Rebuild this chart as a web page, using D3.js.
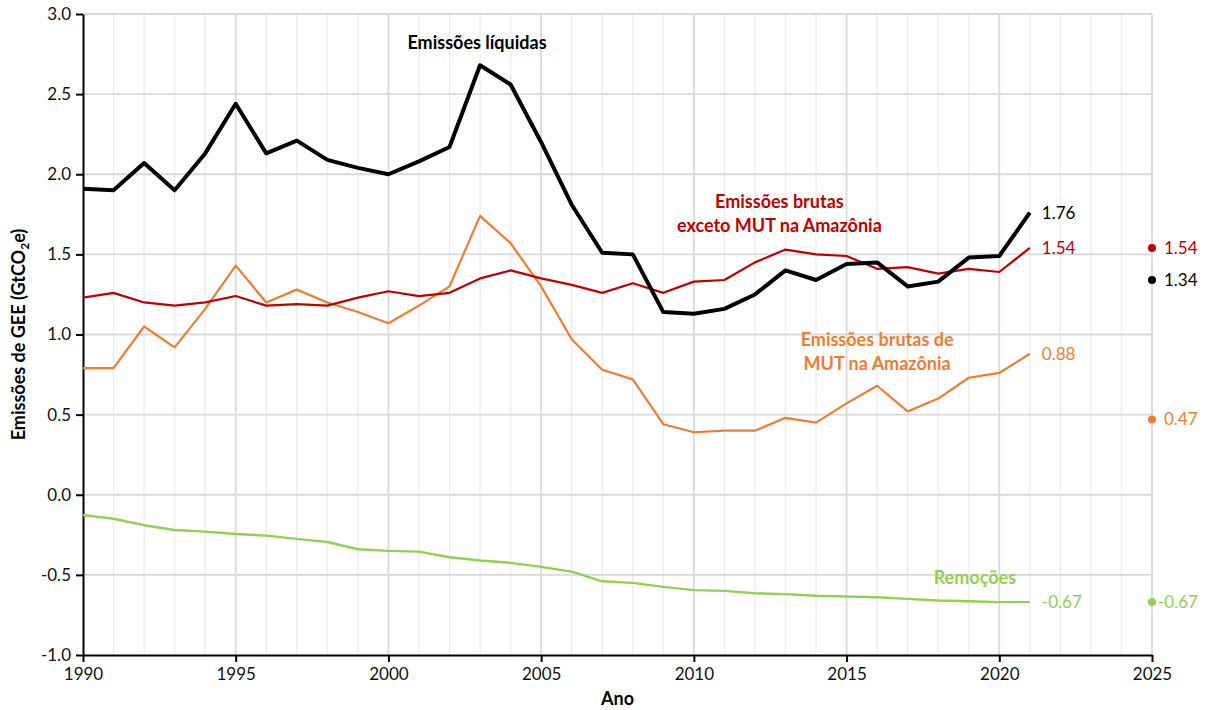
<!DOCTYPE html>
<html>
<head>
<meta charset="utf-8">
<script src="https://cdn.jsdelivr.net/npm/d3@7"></script>
<style>
  body { margin: 0; background: #fff; }
  svg text { font-family: Lato, "Open Sans", sans-serif; }
</style>
</head>
<body>
<div id="grafiek"></div>
<script>
// jaren en series
const anos = d3.range(1990, 2022);
const liquidas = [1.91, 1.90, 2.07, 1.90, 2.13, 2.44, 2.13, 2.21, 2.09, 2.04, 2.00, 2.08, 2.17, 2.68, 2.56, 2.20,
  1.81, 1.51, 1.50, 1.14, 1.13, 1.16, 1.25, 1.40, 1.34, 1.44, 1.45, 1.30, 1.33, 1.48, 1.49, 1.76];
const brutasExceto = [1.23, 1.26, 1.20, 1.18, 1.20, 1.24, 1.18, 1.19, 1.18, 1.23, 1.27, 1.24, 1.26, 1.35, 1.40, 1.35,
  1.31, 1.26, 1.32, 1.26, 1.33, 1.34, 1.45, 1.53, 1.50, 1.49, 1.41, 1.42, 1.38, 1.41, 1.39, 1.54];
const brutasMUT = [0.79, 0.79, 1.05, 0.92, 1.16, 1.43, 1.20, 1.28, 1.20, 1.14, 1.07, 1.18, 1.30, 1.74, 1.57, 1.30,
  0.97, 0.78, 0.72, 0.44, 0.39, 0.40, 0.40, 0.48, 0.45, 0.57, 0.68, 0.52, 0.60, 0.73, 0.76, 0.88];
const remocoes = [-0.126, -0.15, -0.19, -0.22, -0.23, -0.245, -0.255, -0.275, -0.295, -0.34, -0.35, -0.355, -0.39, -0.41,
  -0.425, -0.45, -0.48, -0.54, -0.55, -0.575, -0.595, -0.60, -0.615, -0.62, -0.63, -0.635, -0.64, -0.65, -0.66, -0.665, -0.67, -0.67];

// punten in 2025
const metaNomes = ["exceto", "liquidas", "mut", "remocoes"];
const metaValores = [1.54, 1.34, 0.47, -0.67];
const metaTextos = ["1.54", "1.34", "0.47", "-0.67"];

const xTicks = [1990, 1995, 2000, 2005, 2010, 2015, 2020, 2025];
const yTicks = [-1.0, -0.5, 0.0, 0.5, 1.0, 1.5, 2.0, 2.5, 3.0];

const kleuren = { liquidas: "#000000", exceto: "#C00000", mut: "#ED7D31", remocoes: "#92D050" };

const series = [
  { naam: "mut", waarden: brutasMUT, dikte: 2.2, eind: "0.88" },
  { naam: "exceto", waarden: brutasExceto, dikte: 2.2, eind: "1.54" },
  { naam: "remocoes", waarden: remocoes, dikte: 2.4, eind: "-0.67" },
  { naam: "liquidas", waarden: liquidas, dikte: 4, eind: "1.76" }
];

const width = 1208, height = 710;
const margin = { top: 14, right: 56, bottom: 55, left: 83 };

const svg = d3.select("#grafiek").append("svg")
  .attr("width", width)
  .attr("height", height);

const x = d3.scaleLinear().domain([1990, 2025]).range([margin.left, width - margin.right]);
const y = d3.scaleLinear().domain([-1, 3]).range([height - margin.bottom, margin.top]);

// rasterlijnen
const grid = svg.append("g");
grid.selectAll(".minor").data(d3.range(1991, 2025).filter(d => d % 5 !== 0)).join("line")
  .attr("x1", d => x(d)).attr("x2", d => x(d))
  .attr("y1", y(3)).attr("y2", y(-1))
  .attr("stroke", "#ececec").attr("stroke-width", 1.3);
grid.selectAll(".major").data(xTicks.slice(1)).join("line")
  .attr("x1", d => x(d)).attr("x2", d => x(d))
  .attr("y1", y(3)).attr("y2", y(-1))
  .attr("stroke", "#d9d9d9").attr("stroke-width", 1.8);
grid.selectAll(".hor").data(yTicks.slice(1)).join("line")
  .attr("x1", x(1990)).attr("x2", x(2025))
  .attr("y1", d => y(d)).attr("y2", d => y(d))
  .attr("stroke", "#d9d9d9").attr("stroke-width", 1.8);

// assen (koppelteken i.p.v. minteken)
const fmtY = d => d3.format(".1f")(d).replace("−", "-");
const yAxis = d3.axisLeft(y).tickValues(yTicks).tickFormat(fmtY).tickSize(7).tickSizeOuter(0);
const xAxis = d3.axisBottom(x).tickValues(xTicks).tickFormat(d3.format("d")).tickSize(7).tickSizeOuter(0);

const gy = svg.append("g").attr("transform", `translate(${margin.left},0)`).call(yAxis);
const gx = svg.append("g").attr("transform", `translate(0,${y(-1)})`).call(xAxis);
[gy, gx].forEach(g => {
  g.select(".domain").attr("stroke", "#000").attr("stroke-width", 2);
  g.selectAll(".tick line").attr("stroke", "#000").attr("stroke-width", 2);
  g.selectAll(".tick text").attr("font-size", 17).attr("fill", "#111");
});
gy.selectAll(".tick text").attr("x", -12);
gx.selectAll(".tick text").attr("y", 13);

// lijnen
const line = d3.line().x((d, i) => x(anos[i])).y(d => y(d));
svg.append("g").selectAll("path").data(series).join("path")
  .attr("d", d => line(d.waarden))
  .attr("fill", "none")
  .attr("stroke", d => kleuren[d.naam])
  .attr("stroke-width", d => d.dikte)
  .attr("stroke-linejoin", "round");

// eindwaarden 2021
svg.append("g").selectAll("text").data(series).join("text")
  .attr("x", x(2021) + 12)
  .attr("y", d => y(d.waarden[d.waarden.length - 1]))
  .attr("dy", "0.35em")
  .attr("font-size", 17)
  .attr("fill", d => kleuren[d.naam])
  .text(d => d.eind);

// punten 2025
const meta = svg.append("g");
meta.selectAll("circle").data(metaValores).join("circle")
  .attr("cx", x(2025)).attr("cy", d => y(d)).attr("r", 4)
  .attr("fill", (d, i) => kleuren[metaNomes[i]]);
meta.selectAll("text").data(metaValores).join("text")
  .attr("x", (d, i) => x(2025) + (metaTextos[i].startsWith("-") ? 6 : 12))
  .attr("y", d => y(d))
  .attr("dy", "0.35em")
  .attr("font-size", 17)
  .attr("fill", (d, i) => kleuren[metaNomes[i]])
  .text((d, i) => metaTextos[i]);

// reekslabels
const labels = [
  { regels: ["Emissões líquidas"], kleur: kleuren.liquidas, jaar: 2002.9, waarde: 2.78 },
  { regels: ["Emissões brutas", "exceto MUT na Amazônia"], kleur: kleuren.exceto, jaar: 2012.8, waarde: 1.79 },
  { regels: ["Emissões brutas de", "MUT na Amazônia"], kleur: kleuren.mut, jaar: 2016, waarde: 0.93 },
  { regels: ["Remoções"], kleur: kleuren.remocoes, jaar: 2019.2, waarde: -0.555 }
];
labels.forEach(l => {
  const t = svg.append("text")
    .attr("x", x(l.jaar)).attr("y", y(l.waarde))
    .attr("text-anchor", "middle")
    .attr("font-size", 18).attr("font-weight", "bold")
    .attr("fill", l.kleur);
  l.regels.forEach((r, i) => {
    t.append("tspan").attr("x", x(l.jaar)).attr("dy", i === 0 ? 0 : 24).text(r);
  });
});

// astitels
svg.append("text")
  .attr("x", (x(1990) + x(2025)) / 2)
  .attr("y", 705)
  .attr("text-anchor", "middle")
  .attr("font-size", 18).attr("font-weight", "bold")
  .text("Ano");

const yTitle = svg.append("text")
  .attr("transform", `translate(25,${y(1)}) rotate(-90)`)
  .attr("text-anchor", "middle")
  .attr("font-size", 18).attr("font-weight", "bold");
yTitle.append("tspan").text("Emissões de GEE (GtCO");
yTitle.append("tspan").attr("font-size", 12).attr("dy", 4).text("2");
yTitle.append("tspan").attr("dy", -4).text("e)");
</script>
</body>
</html>
